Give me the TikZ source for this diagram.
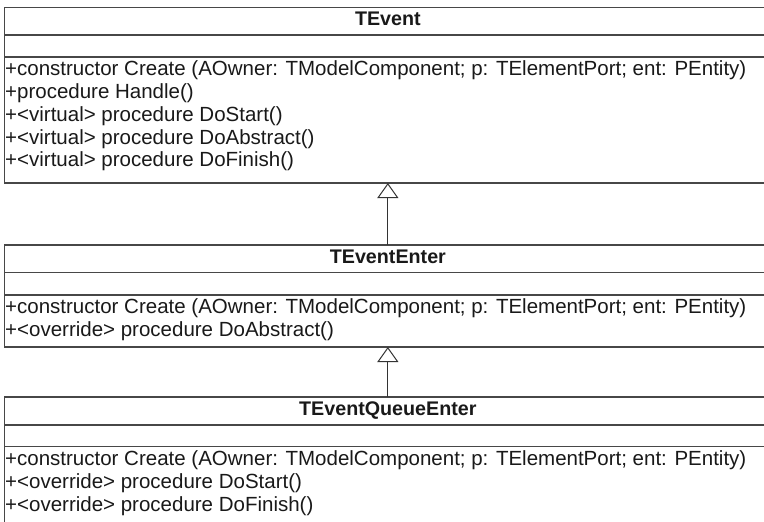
\documentclass[tikz,border=0pt]{standalone}
\usepackage{fontspec}
\setmainfont{Liberation Sans}
\usetikzlibrary{arrows.meta}
\begin{document}
\begin{tikzpicture}[x=1pt,y=-1pt,
  sect/.style={draw=black!72, line width=1.3pt, minimum width=766.3pt, inner sep=0pt, outer sep=0pt, anchor=north west},
  ttl/.style={font=\fontsize{19.7}{24}\selectfont\bfseries, text=black!90, anchor=base, inner sep=0pt},
  op/.style={font=\fontsize{20.5}{24}\selectfont, anchor=base west, inner sep=0pt, text=black!90},
  inh/.style={draw=black!80, line width=1pt, -{Triangle[open, length=15pt, width=21pt, line width=1pt]}}
]
\useasboundingbox (0,0) rectangle (764,522);
\clip (0,0) rectangle (764,522);
% TEvent
\node[sect, minimum height=27.7pt] (evT) at (4.7,7.3) {};
\node[sect, minimum height=22pt] (evA) at (evT.south west) {};
\node[sect, minimum height=126pt] (evO) at (evA.south west) {};
\node[ttl] (evN) at (387.85,25.7) {TEvent};
\node[op] (ev1) at (5,75.7) {+constructor Create (AOwner: TModelComponent; p: TElementPort; ent: PEntity)};
\node[op] (ev2) at (5,98.5) {+procedure Handle()};
\node[op] (ev3) at (5,121.3) {+<virtual> procedure DoStart()};
\node[op] (ev4) at (5,144.1) {+<virtual> procedure DoAbstract()};
\node[op] (ev5) at (5,166.9) {+<virtual> procedure DoFinish()};
% TEventEnter
\node[sect, minimum height=27.7pt] (teT) at (4.7,245) {};
\node[sect, minimum height=22.3pt] (teA) at (teT.south west) {};
\node[sect, minimum height=52pt] (teO) at (teA.south west) {};
\node[ttl] (teN) at (387.85,263.4) {TEventEnter};
\node[op] (te1) at (5,313.7) {+constructor Create (AOwner: TModelComponent; p: TElementPort; ent: PEntity)};
\node[op] (te2) at (5,336.5) {+<override> procedure DoAbstract()};
% TEventQueueEnter
\node[sect, minimum height=28pt] (tqT) at (4.7,397) {};
\node[sect, minimum height=21.7pt] (tqA) at (tqT.south west) {};
\node[sect, minimum height=100pt] (tqO) at (tqA.south west) {};
\node[ttl] (tqN) at (387.85,415.4) {TEventQueueEnter};
\node[op] (tq1) at (5,465.4) {+constructor Create (AOwner: TModelComponent; p: TElementPort; ent: PEntity)};
\node[op] (tq2) at (5,488.2) {+<override> procedure DoStart()};
\node[op] (tq3) at (5,511) {+<override> procedure DoFinish()};
% inheritance
\draw[inh] (teT.north) -- (evO.south);
\draw[inh] (tqT.north) -- (teO.south);
\end{tikzpicture}
\end{document}
